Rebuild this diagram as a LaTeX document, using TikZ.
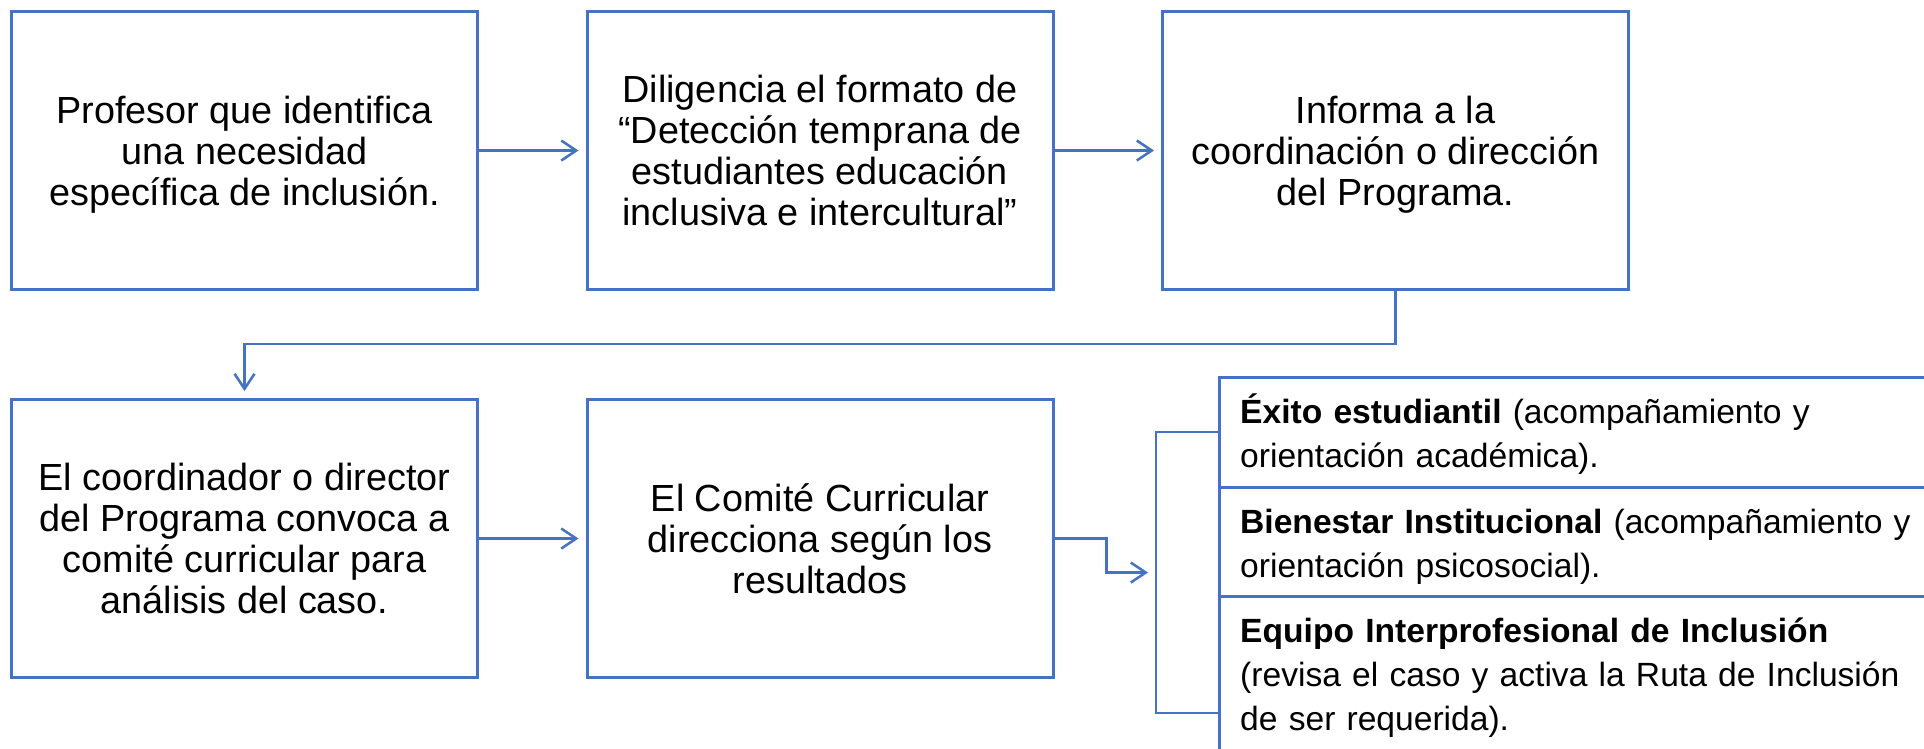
\documentclass[tikz,border=0pt]{standalone}
\usepackage{fontspec}
\setmainfont{Liberation Sans}
\usetikzlibrary{arrows.meta}
\definecolor{ublue}{HTML}{4472C4}
\begin{document}
\begin{tikzpicture}[x=1pt,y=-1pt,
  box/.style={draw=ublue, line width=3pt, minimum width=466pt, minimum height=278pt,
    inner sep=0pt, align=center, font=\fontsize{37.8}{41}\selectfont, text depth=0pt},
  link/.style={draw=ublue, line width=2.5pt, -{Straight Barb[length=15pt,width=20pt]},
    shorten >=7pt},
  cell/.style={draw=ublue, line width=3pt, anchor=north west, minimum width=800pt,
    inner sep=0pt, outer sep=0pt},
  celltext/.style={anchor=base west, text width=700pt, align=left, inner sep=0pt,
    font=\fontsize{33.6}{44}\selectfont},
]
\useasboundingbox (0,0) rectangle (1924,748);
\clip (0,0) rectangle (1924,748);
\fill[white] (0,0) rectangle (1924,748);

% top row
\node[box] (b1) at (244.5,150.5) {Profesor que identifica\\una necesidad\\específica de inclusión.};
\node[box] (b2) at (820,150.5) {Diligencia el formato de\\“Detección temprana de\\estudiantes educación\\inclusiva e intercultural”};
\node[box] (b3) at (1395.5,150.5) {Informa a la\\coordinación o dirección\\del Programa.};
% bottom row
\node[box] (b4) at (244.5,538.5) {El coordinador o director\\del Programa convoca a\\comité curricular para\\análisis del caso.};
\node[box] (b5) at (820,538.5) {El Comité Curricular\\direcciona según los\\resultados};

% right panel
\node[cell, minimum height=110pt] (c1) at (1219,377) {};
\node[cell, minimum height=109pt] (c2) at (1219,487) {};
\node[cell, minimum height=234pt] (c3) at (1219,596) {};
\node[celltext] (t1) at (1240,423) {\textbf{Éxito estudiantil} (acompañamiento y\\orientación académica).};
\node[celltext] (t2) at (1240,533) {\textbf{Bienestar Institucional} (acompañamiento y\\orientación psicosocial).};
\node[celltext] (t3) at (1240,642) {\textbf{Equipo Interprofesional de Inclusión}\\(revisa el caso y activa la Ruta de Inclusión\\de ser requerida).};

% bracket
\coordinate (bm) at (1156,572.5);
\draw[ublue, line width=2.5pt] (c1.west) -- ++(-63,0) |- (c3.west);

% connectors
\draw[link] (b1.east) -- (b2.west);
\draw[link] (b2.east) -- (b3.west);
\draw[link] (b3.south) -- ++(0,53) -| (b4.north);
\draw[link] (b4.east) -- (b5.west);
\draw[link, shorten >=8pt] (b5.east) -- ++(52,0) |- (bm);
\end{tikzpicture}
\end{document}
